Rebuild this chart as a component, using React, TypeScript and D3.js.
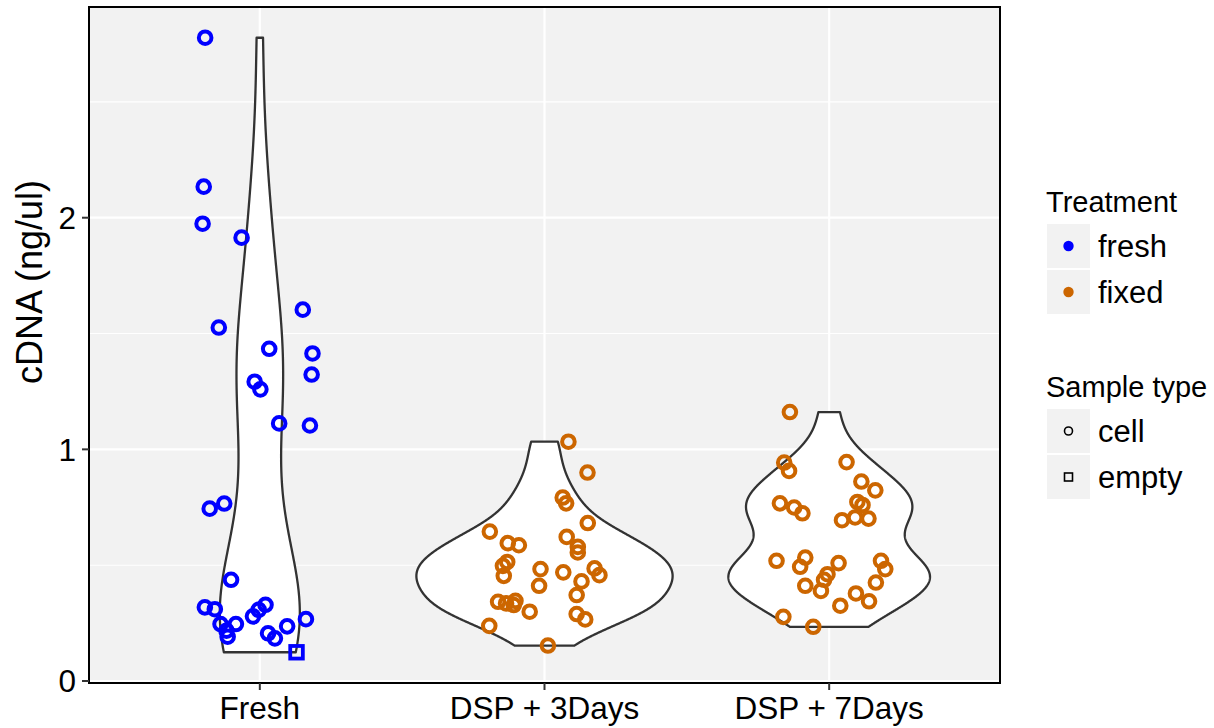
import React from "react";
import * as d3 from "d3";

const categories = ["Fresh", "DSP + 3Days", "DSP + 7Days"];
const treatments = ["fresh", "fixed", "fixed"];
const treatmentColors: Record<string, string> = { fresh: "#0000FF", fixed: "#CC6600" };

const freshValues = [2.777, 2.134, 1.974, 1.914, 1.526, 1.603, 1.434, 1.414, 1.323, 1.292, 1.259, 1.112, 1.103, 0.744, 0.766, 0.437, 0.318, 0.31, 0.246, 0.217, 0.191, 0.246, 0.279, 0.307, 0.329, 0.206, 0.184, 0.236, 0.267, 0.124];
const freshJitter = [-0.192, -0.197, -0.201, -0.064, -0.144, 0.151, 0.033, 0.185, 0.182, -0.018, 0.002, 0.068, 0.176, -0.176, -0.125, -0.101, -0.193, -0.158, -0.138, -0.117, -0.113, -0.084, -0.024, -0.004, 0.02, 0.029, 0.053, 0.096, 0.162, 0.129];
const freshSampleType = freshValues.map((_, i) => (i === freshValues.length - 1 ? "empty" : "cell"));

const dsp3Values = [1.033, 0.9, 0.792, 0.767, 0.682, 0.645, 0.622, 0.595, 0.586, 0.579, 0.555, 0.514, 0.497, 0.454, 0.483, 0.469, 0.486, 0.457, 0.43, 0.411, 0.371, 0.342, 0.335, 0.346, 0.328, 0.299, 0.289, 0.266, 0.238, 0.153];
const dsp3Jitter = [0.084, 0.151, 0.064, 0.076, 0.152, -0.192, 0.078, -0.129, -0.09, 0.117, 0.117, -0.131, -0.146, -0.143, -0.014, 0.066, 0.176, 0.193, 0.13, -0.019, 0.113, -0.163, -0.135, -0.102, -0.108, -0.052, 0.113, 0.143, -0.194, 0.012];

const dsp7Values = [1.161, 0.943, 0.907, 0.945, 0.861, 0.823, 0.767, 0.749, 0.724, 0.773, 0.76, 0.694, 0.706, 0.701, 0.519, 0.533, 0.493, 0.509, 0.519, 0.483, 0.461, 0.437, 0.389, 0.411, 0.425, 0.378, 0.344, 0.325, 0.277, 0.234];
const dsp7Jitter = [-0.138, -0.158, -0.141, 0.061, 0.113, 0.162, -0.173, -0.123, -0.094, 0.099, 0.117, 0.045, 0.091, 0.138, -0.185, -0.084, -0.102, 0.033, 0.182, 0.197, -0.006, -0.018, -0.029, -0.084, 0.164, 0.094, 0.14, 0.039, -0.161, -0.056];

const yTicks = [0, 1, 2];
const yMinorTicks = [0.5, 1.5, 2.5];
const yLabel = "cDNA (ng/ul)";
const legendTreatment = ["fresh", "fixed"];
const legendSampleType = ["cell", "empty"];

const groups = [
  { cat: categories[0], treat: treatments[0], values: freshValues, jitter: freshJitter, types: freshSampleType },
  { cat: categories[1], treat: treatments[1], values: dsp3Values, jitter: dsp3Jitter, types: dsp3Values.map(() => "cell") },
  { cat: categories[2], treat: treatments[2], values: dsp7Values, jitter: dsp7Jitter, types: dsp7Values.map(() => "cell") },
];

function bwNrd0(x: number[]) {
  const s = [...x].sort((a, b) => a - b);
  const hi = d3.deviation(s) as number;
  const iqr = (d3.quantileSorted(s, 0.75) as number) - (d3.quantileSorted(s, 0.25) as number);
  const lo = Math.min(hi, iqr / 1.34);
  return 0.9 * lo * Math.pow(s.length, -0.2);
}

function kde(x: number[]) {
  const bw = bwNrd0(x);
  const [mn, mx] = d3.extent(x) as [number, number];
  const n = 512;
  const out: { v: number; d: number }[] = [];
  for (let i = 0; i < n; i++) {
    const v = mn + ((mx - mn) * i) / (n - 1);
    let s = 0;
    for (const xi of x) {
      const z = (v - xi) / bw;
      s += Math.exp(-0.5 * z * z);
    }
    out.push({ v, d: s / (x.length * bw * Math.sqrt(2 * Math.PI)) });
  }
  return out;
}

export default function App() {
  const W = 1214, H = 728;
  const panel = { left: 89, right: 1000, top: 7, bottom: 683 };
  const all = groups.flatMap((g) => g.values);
  const [dmin, dmax] = d3.extent(all) as [number, number];
  const pad = (dmax - dmin) * 0.05;
  const y = d3.scaleLinear().domain([dmin - pad, dmax + pad]).range([panel.bottom, panel.top]);
  const x = d3.scalePoint<string>().domain(categories).range([panel.left, panel.right]).padding(0.6);
  const step = x.step();

  const dens = groups.map((g) => kde(g.values));
  const maxD = d3.max(dens.flat(), (d) => d.d) as number;

  const fontFam = "'Liberation Sans', Arial, Helvetica, sans-serif";

  return (
    <svg width={W} height={H} style={{ position: "absolute", left: 0, top: 0, background: "#fff" }} fontFamily={fontFam}>
      <rect x={panel.left} y={panel.top} width={panel.right - panel.left} height={panel.bottom - panel.top} fill="#F2F2F2" />
      {yMinorTicks.map((t) => (
        <line key={"mn" + t} x1={panel.left} x2={panel.right} y1={y(t)} y2={y(t)} stroke="#fff" strokeWidth={1.1} />
      ))}
      {yTicks.map((t) => (
        <line key={"mj" + t} x1={panel.left} x2={panel.right} y1={y(t)} y2={y(t)} stroke="#fff" strokeWidth={2.2} />
      ))}
      {categories.map((c) => (
        <line key={"vx" + c} x1={x(c)} x2={x(c)} y1={panel.top} y2={panel.bottom} stroke="#fff" strokeWidth={2.2} />
      ))}
      {groups.map((g, gi) => {
        const cx = x(g.cat) as number;
        const area = d3
          .area<{ v: number; d: number }>()
          .y((d) => y(d.v))
          .x0((d) => cx - (d.d / maxD) * 0.45 * step)
          .x1((d) => cx + (d.d / maxD) * 0.45 * step);
        return <path key={"v" + gi} d={area(dens[gi]) as string} fill="#fff" stroke="#333333" strokeWidth={2.3} strokeLinejoin="round" />;
      })}
      {groups.map((g, gi) =>
        g.values.map((v, i) => {
          const px = (x(g.cat) as number) + g.jitter[i] * step;
          const py = y(v);
          const col = treatmentColors[g.treat];
          if (g.types[i] === "empty") {
            return <rect key={`p${gi}-${i}`} x={px - 6.3} y={py - 6.3} width={12.6} height={12.6} fill="none" stroke={col} strokeWidth={3.8} />;
          }
          return <circle key={`p${gi}-${i}`} cx={px} cy={py} r={6.3} fill="none" stroke={col} strokeWidth={4} />;
        })
      )}
      <rect x={panel.left} y={panel.top} width={panel.right - panel.left} height={panel.bottom - panel.top} fill="none" stroke="#000" strokeWidth={2} />
      {yTicks.map((t) => (
        <g key={"yt" + t}>
          <line x1={panel.left - 7} x2={panel.left} y1={y(t)} y2={y(t)} stroke="#333" strokeWidth={2} />
          <text x={panel.left - 13} y={y(t)} dy="0.36em" textAnchor="end" fontSize={31.5} fill="#000">{t}</text>
        </g>
      ))}
      {categories.map((c) => (
        <g key={"xt" + c}>
          <line x1={x(c)} x2={x(c)} y1={panel.bottom} y2={panel.bottom + 7} stroke="#333" strokeWidth={2} />
          <text x={x(c)} y={719} textAnchor="middle" fontSize={31.5} fill="#000">{c}</text>
        </g>
      ))}
      <text transform={`translate(42, 282) rotate(-90)`} textAnchor="middle" fontSize={36} fill="#000">{yLabel}</text>

      <text x={1046} y={212} fontSize={29} fill="#000">Treatment</text>
      {legendTreatment.map((t, i) => (
        <g key={"lt" + t}>
          <rect x={1047} y={224 + i * 46} width={43} height={44} fill="#F2F2F2" />
          <circle cx={1068.5} cy={246 + i * 46} r={5.2} fill={treatmentColors[t]} />
          <text x={1098} y={257 + i * 46} fontSize={31} fill="#000">{t}</text>
        </g>
      ))}
      <text x={1046} y={397} fontSize={29} fill="#000">Sample type</text>
      {legendSampleType.map((t, i) => (
        <g key={"ls" + t}>
          <rect x={1047} y={409 + i * 46} width={43} height={44} fill="#F2F2F2" />
          {t === "cell" ? (
            <circle cx={1068.5} cy={431 + i * 46} r={4} fill="none" stroke="#000" strokeWidth={1.6} />
          ) : (
            <rect x={1068.5 - 4} y={431 + i * 46 - 4} width={8} height={8} fill="none" stroke="#000" strokeWidth={1.6} />
          )}
          <text x={1098} y={442 + i * 46} fontSize={31} fill="#000">{t}</text>
        </g>
      ))}
    </svg>
  );
}
